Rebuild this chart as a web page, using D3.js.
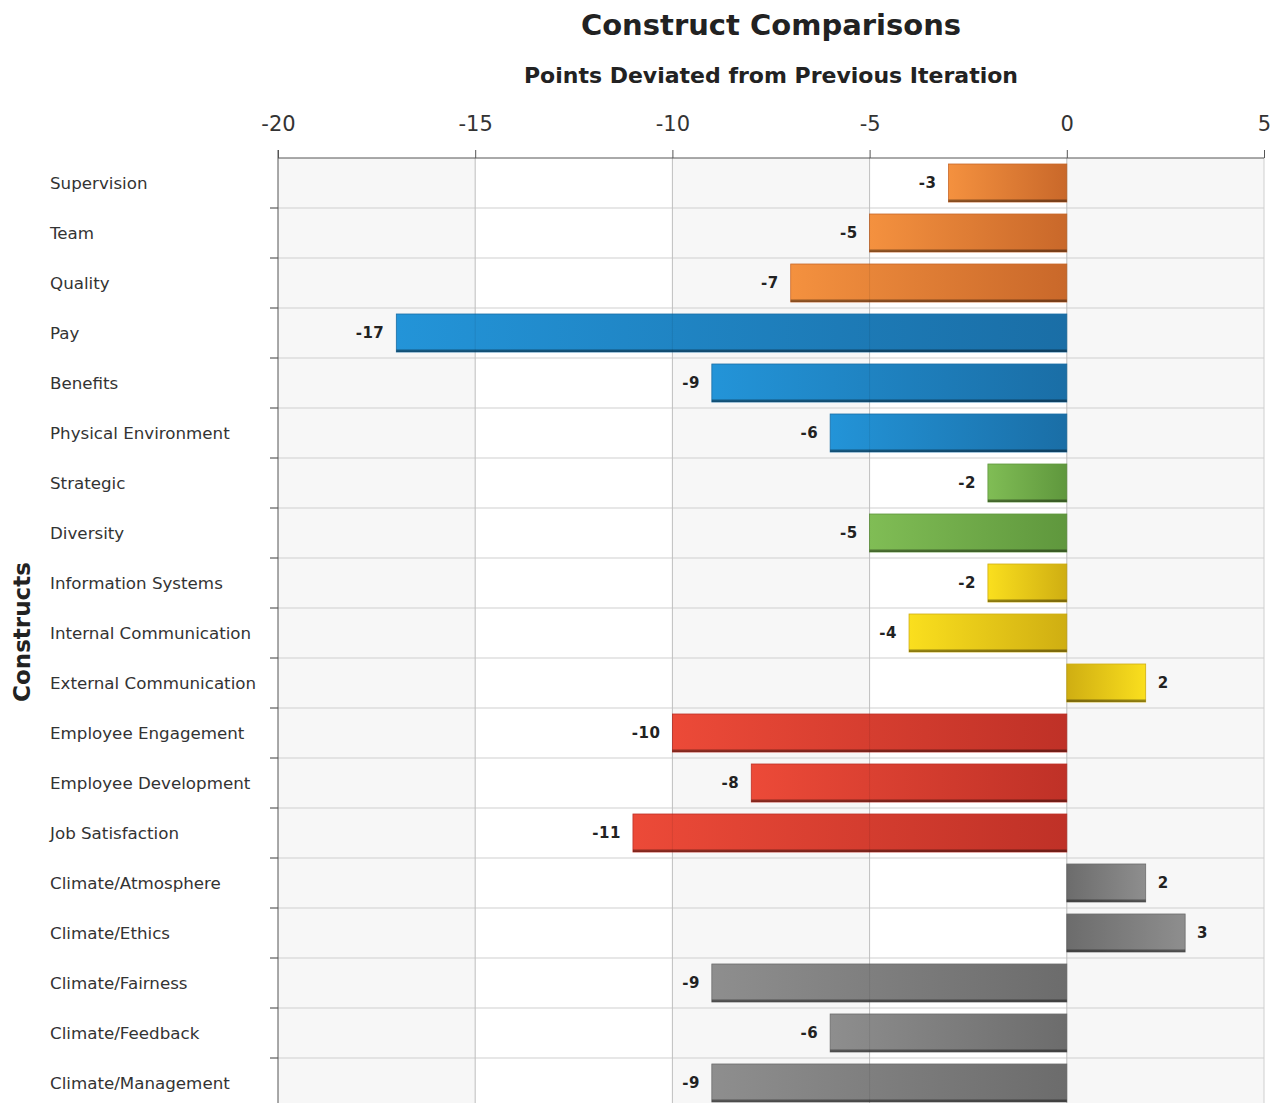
<!DOCTYPE html>
<html>
<head>
<meta charset="utf-8">
<script src="https://cdn.jsdelivr.net/npm/d3@7"></script>
<style>
  body { margin: 0; background: #fff; overflow: hidden; }
  svg { display: block; }
</style>
</head>
<body>
<svg></svg>
<script>
var categories = ["Supervision","Team","Quality","Pay","Benefits","Physical Environment","Strategic","Diversity","Information Systems","Internal Communication","External Communication","Employee Engagement","Employee Development","Job Satisfaction","Climate/Atmosphere","Climate/Ethics","Climate/Fairness","Climate/Feedback","Climate/Management"]
var values = [-3,-5,-7,-17,-9,-6,-2,-5,-2,-4,2,-10,-8,-11,2,3,-9,-6,-9]
var groups = ["orange","orange","orange","blue","blue","blue","green","green","yellow","yellow","yellow","red","red","red","gray","gray","gray","gray","gray"]
var xTicks = [-20,-15,-10,-5,0,5]

var palette = {
	orange: ["#f4913f","#c9682a"],
	blue:   ["#2394d8","#1a6ea6"],
	green:  ["#80bd55","#5f973d"],
	yellow: ["#fadf1e","#cfae12"],
	red:    ["#ec4a38","#bf3127"],
	gray:   ["#8e8e8e","#6c6c6c"]
}

var width = 1283
var height = 1103
var margin = {top: 158, left: 278, right: 19}
var band = 50

const svg = d3.select("svg")
	.attr("width", width)
	.attr("height", height)
	.style("font-family", "'DejaVu Sans', sans-serif");

const x = d3.scaleLinear().domain([-20, 5]).range([margin.left, width - margin.right])
const y = d3.scaleBand().domain(categories).range([margin.top, margin.top + band * categories.length]).paddingInner(0).paddingOuter(0)
const plotBottom = margin.top + band * categories.length

// gradients, light at the far end, dark at zero
const defs = svg.append("defs")
Object.keys(palette).forEach(function(k){
	["neg","pos"].forEach(function(dir){
		var g = defs.append("linearGradient").attr("id", "g_" + k + "_" + dir)
			.attr("x1", dir == "neg" ? "0%" : "100%").attr("x2", dir == "neg" ? "100%" : "0%")
			.attr("y1", "0%").attr("y2", "0%")
		g.append("stop").attr("offset", "0%").attr("stop-color", palette[k][0])
		g.append("stop").attr("offset", "100%").attr("stop-color", palette[k][1])
	})
})

// interlaced columns
svg.append("g").selectAll("rect")
	.data(d3.range(0, xTicks.length - 1))
	.join("rect")
	.attr("x", i => x(xTicks[i]))
	.attr("width", i => x(xTicks[i + 1]) - x(xTicks[i]))
	.attr("y", margin.top)
	.attr("height", band * categories.length)
	.attr("fill", i => i % 2 == 0 ? "#f7f7f7" : "#ffffff")

// grid lines
svg.append("g").selectAll("line")
	.data(categories.slice(1))
	.join("line")
	.attr("x1", margin.left - 8).attr("x2", width - margin.right)
	.attr("y1", d => y(d)).attr("y2", d => y(d))
	.attr("stroke", "#cfcfcf")

svg.append("g").selectAll("line")
	.data(categories.slice(1))
	.join("line")
	.attr("x1", margin.left - 8).attr("x2", margin.left)
	.attr("y1", d => y(d)).attr("y2", d => y(d))
	.attr("stroke", "#555")

svg.append("g").selectAll("line")
	.data(xTicks.slice(1))
	.join("line")
	.attr("x1", d => x(d)).attr("x2", d => x(d))
	.attr("y1", margin.top).attr("y2", plotBottom)
	.attr("stroke", "#cfcfcf")

// top axis
const xAxis = svg.append("g")
	.attr("transform", `translate(0,${margin.top})`)
	.call(d3.axisTop(x).tickValues(xTicks).tickSize(8).tickPadding(19).tickFormat(d3.format("d")))
xAxis.select(".domain").attr("stroke", "#555").attr("d", `M${margin.left},0H${width - margin.right}`)
xAxis.selectAll(".tick line").attr("stroke", "#555")
xAxis.selectAll(".tick text")
	.attr("fill", "#333")
	.style("font-size", "21px")
	.style("font-family", "'DejaVu Sans', sans-serif")
	.text(d => d < 0 ? "-" + Math.abs(d) : d)

// left axis line
svg.append("line")
	.attr("x1", margin.left).attr("x2", margin.left)
	.attr("y1", margin.top - 8).attr("y2", plotBottom)
	.attr("stroke", "#555")

// category labels
svg.append("g").selectAll("text")
	.data(categories)
	.join("text")
	.attr("x", 50)
	.attr("y", d => y(d) + band / 2)
	.attr("dy", "0.35em")
	.attr("fill", "#333")
	.style("font-size", "16.7px")
	.style("font-family", "'DejaVu Sans', sans-serif")
	.text(d => d)

// bars
const barH = 38
const bars = svg.append("g").selectAll("g")
	.data(categories.map((c, i) => ({name: c, value: values[i], group: groups[i]})))
	.join("g")

bars.append("rect")
	.attr("x", d => x(Math.min(0, d.value)))
	.attr("width", d => Math.abs(x(d.value) - x(0)))
	.attr("y", d => y(d.name) + (band - barH) / 2)
	.attr("height", barH)
	.attr("fill", d => "url(#g_" + d.group + "_" + (d.value < 0 ? "neg" : "pos") + ")")
	.attr("stroke", d => palette[d.group][1])
	.attr("stroke-width", 0.8)

bars.append("rect")
	.attr("x", d => x(Math.min(0, d.value)))
	.attr("width", d => Math.abs(x(d.value) - x(0)))
	.attr("y", d => y(d.name) + (band - barH) / 2 + barH - 2.5)
	.attr("height", 2.5)
	.attr("fill", "#000")
	.attr("opacity", 0.4)

bars.append("text")
	.attr("x", d => d.value < 0 ? x(d.value) - 12 : x(d.value) + 12)
	.attr("y", d => y(d.name) + band / 2)
	.attr("dy", "0.35em")
	.attr("text-anchor", d => d.value < 0 ? "end" : "start")
	.attr("fill", "#222")
	.style("font-size", "15px")
	.style("font-weight", "bold")
	.style("letter-spacing", "0.5px")
	.text(d => d.value < 0 ? "-" + Math.abs(d.value) : d.value)

// faint grid showing through the bars
svg.append("g").selectAll("line")
	.data(xTicks.slice(1, -1))
	.join("line")
	.attr("x1", d => x(d)).attr("x2", d => x(d))
	.attr("y1", margin.top).attr("y2", plotBottom)
	.attr("stroke", "#000")
	.attr("stroke-opacity", 0.08)

// titles
svg.append("text")
	.attr("x", 771).attr("y", 35)
	.attr("text-anchor", "middle")
	.attr("fill", "#222")
	.style("font-size", "29px")
	.style("font-weight", "bold")
	.text("Construct Comparisons")

svg.append("text")
	.attr("x", 771).attr("y", 83)
	.attr("text-anchor", "middle")
	.attr("fill", "#222")
	.style("font-size", "22px")
	.style("font-weight", "bold")
	.text("Points Deviated from Previous Iteration")

svg.append("text")
	.attr("transform", "translate(30,632) rotate(-90)")
	.attr("text-anchor", "middle")
	.attr("fill", "#222")
	.style("font-size", "23px")
	.style("font-weight", "bold")
	.text("Constructs")
</script>
</body>
</html>
